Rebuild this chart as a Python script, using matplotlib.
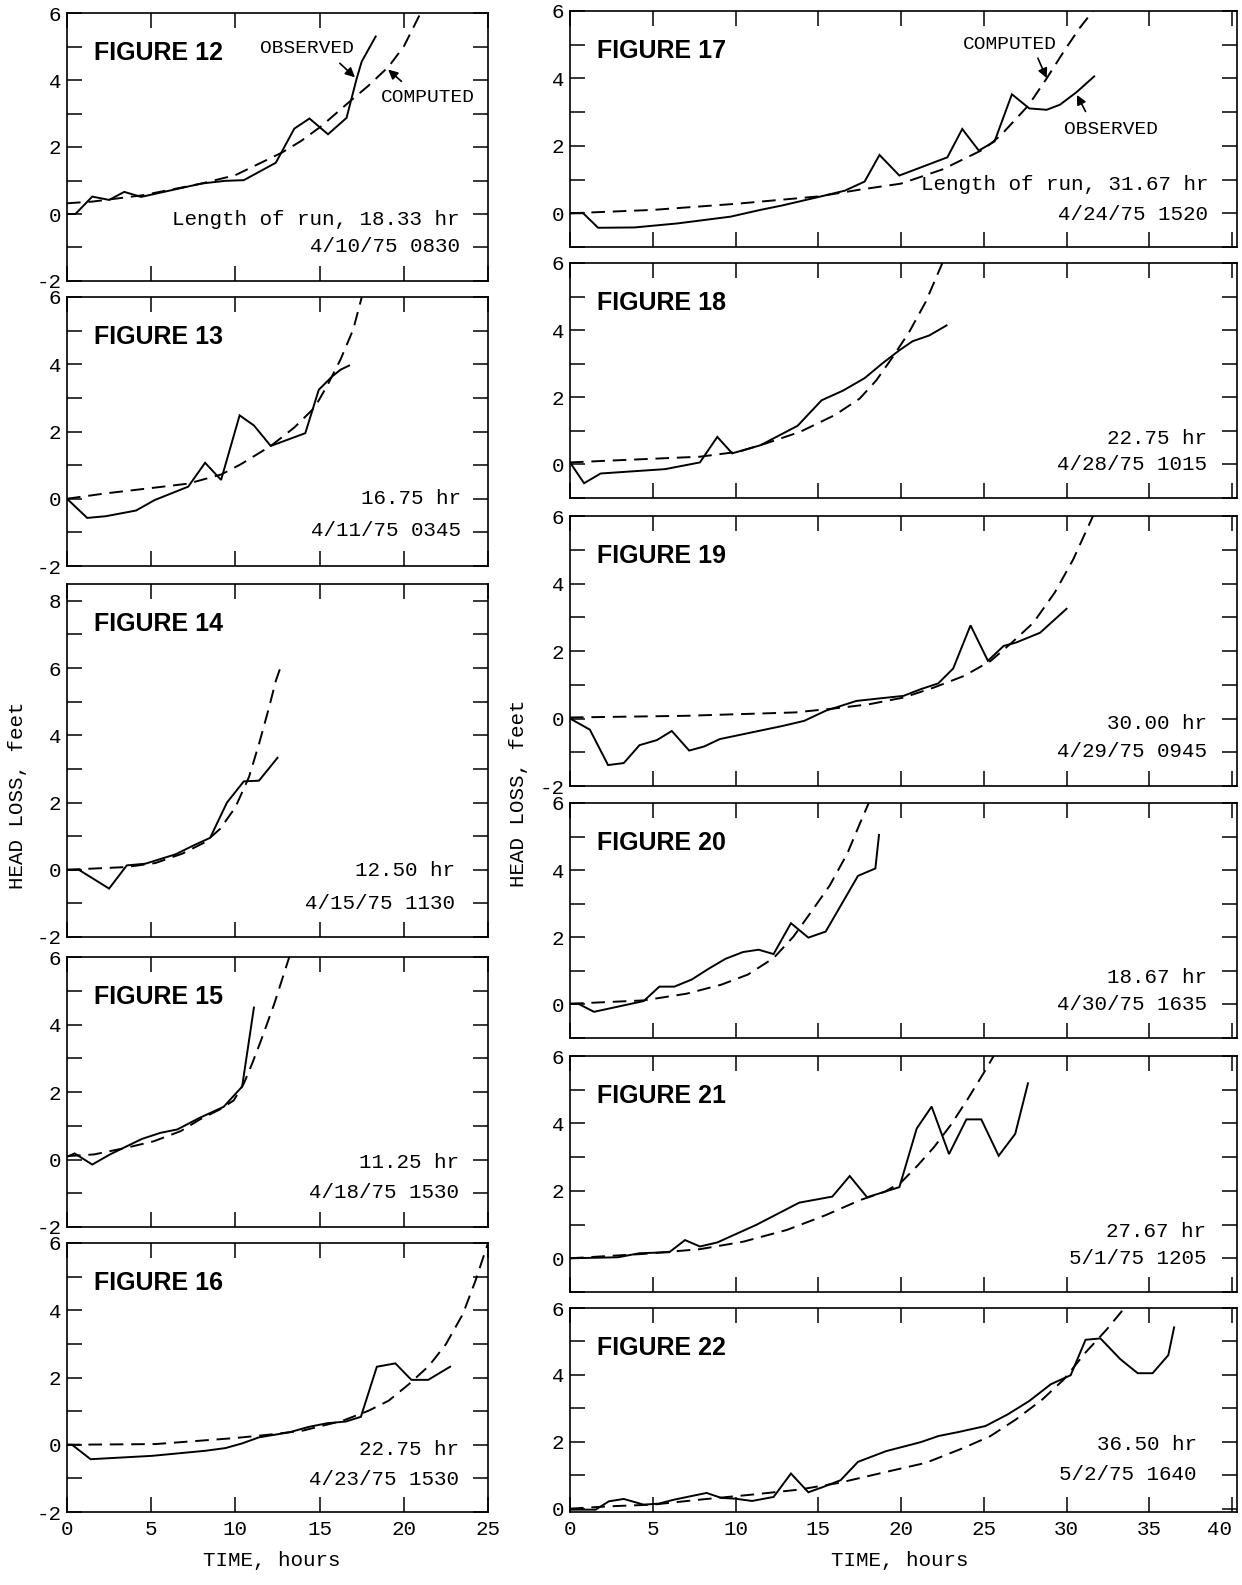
import matplotlib
matplotlib.use("Agg")
import matplotlib.pyplot as plt
from matplotlib.ticker import MultipleLocator, FuncFormatter
from matplotlib.transforms import blended_transform_factory

plt.rcParams['font.family'] = 'Liberation Mono'
plt.rcParams['axes.unicode_minus'] = False

# ---- data (time in hours, head loss in feet) ----
fig12_obs_t = [0, 0.5, 1.5, 2.5, 3.4, 4.4, 8.0, 9.4, 10.5, 12.4, 13.5, 14.4, 15.5, 16.6, 17.2, 17.5, 18.33]
fig12_obs_h = [0.0, 0.0, 0.52, 0.42, 0.66, 0.51, 0.91, 0.99, 1.01, 1.53, 2.55, 2.85, 2.38, 2.87, 4.04, 4.55, 5.3]
fig12_cmp_t = [0, 1.5, 4.5, 8.0, 10.0, 12.75, 13.9, 15.1, 16.7, 17.9, 19.1, 20.0, 21.0]
fig12_cmp_h = [0.32, 0.37, 0.56, 0.91, 1.16, 1.83, 2.18, 2.62, 3.32, 3.83, 4.4, 5.0, 6.0]

fig13_obs_t = [0, 1.2, 2.3, 4.1, 5.2, 7.2, 8.2, 9.15, 10.25, 11.1, 12.1, 14.15, 14.95, 15.75, 16.25, 16.75]
fig13_obs_h = [0, -0.57, -0.52, -0.35, -0.04, 0.36, 1.07, 0.56, 2.48, 2.18, 1.57, 1.95, 3.24, 3.64, 3.84, 3.96]
fig13_cmp_t = [0, 2.3, 5.2, 7.2, 9.15, 10.3, 12.1, 13.5, 14.7, 15.45, 16.25, 17.0, 17.5]
fig13_cmp_h = [0, 0.16, 0.33, 0.45, 0.72, 1.02, 1.57, 2.12, 2.71, 3.36, 4.15, 5.04, 5.99]

fig14_obs_t = [0, 0.7, 2.5, 3.55, 4.65, 6.45, 7.5, 8.5, 9.5, 10.5, 11.4, 12.5]
fig14_obs_h = [0, 0, -0.56, 0.13, 0.18, 0.46, 0.72, 0.95, 2.0, 2.63, 2.65, 3.33]
fig14_cmp_t = [0, 3.5, 5.25, 6.85, 8.2, 9.1, 10.0, 10.8, 11.4, 12.0, 12.4, 12.7]
fig14_cmp_h = [0, 0.08, 0.2, 0.48, 0.82, 1.22, 1.86, 2.75, 3.74, 4.83, 5.62, 6.05]

fig15_obs_t = [0, 0.45, 1.5, 2.55, 4.45, 5.55, 6.55, 7.9, 9.3, 10.4, 11.1]
fig15_obs_h = [0.08, 0.18, -0.15, 0.15, 0.61, 0.79, 0.89, 1.24, 1.56, 2.16, 4.5]
fig15_cmp_t = [0, 1.6, 3.55, 5.15, 6.75, 7.9, 9.1, 9.9, 10.5, 11.0, 11.5, 12.3, 13.2]
fig15_cmp_h = [0.1, 0.15, 0.35, 0.54, 0.84, 1.19, 1.49, 1.75, 2.25, 2.85, 3.5, 4.6, 6.0]

fig16_obs_t = [0, 0.3, 1.4, 5.05, 8.2, 9.4, 10.4, 11.4, 13.2, 14.35, 15.45, 16.55, 17.45, 18.4, 19.5, 20.45, 21.45, 22.75]
fig16_obs_h = [0, 0, -0.43, -0.33, -0.18, -0.1, 0.04, 0.22, 0.37, 0.53, 0.64, 0.69, 0.83, 2.32, 2.42, 1.93, 1.93, 2.32]
fig16_cmp_t = [0, 5.25, 10.0, 12.0, 14.0, 16.35, 17.9, 19.1, 20.3, 21.5, 22.5, 23.5, 24.25, 25.0]
fig16_cmp_h = [0, 0.02, 0.2, 0.3, 0.42, 0.71, 1.01, 1.31, 1.8, 2.35, 2.99, 3.88, 4.87, 6.0]

fig17_obs_t = [0, 0.8, 1.7, 3.9, 6.5, 9.7, 11.5, 12.8, 14.9, 16.6, 17.8, 18.7, 19.9, 22.8, 23.7, 24.7,
               25.65, 26.7, 27.75, 28.8, 29.6, 30.6, 31.67]
fig17_obs_h = [0, 0, -0.43, -0.42, -0.3, -0.1, 0.1, 0.23, 0.47, 0.67, 0.94, 1.73, 1.12, 1.66, 2.5, 1.86,
               2.13, 3.53, 3.11, 3.07, 3.22, 3.59, 4.06]
fig17_cmp_t = [0, 5, 10, 15, 17.5, 20, 22.5, 25, 26, 27.7, 28.8, 29.9, 30.8, 31.6]
fig17_cmp_h = [0, 0.1, 0.28, 0.5, 0.7, 0.88, 1.3, 1.9, 2.3, 3.2, 4.0, 4.85, 5.5, 6.0]

fig18_obs_t = [0, 0.85, 1.85, 5.75, 7.85, 8.9, 9.8, 11.5, 13.75, 15.2, 16.5, 17.8, 18.85, 19.9, 20.7, 21.7, 22.75]
fig18_obs_h = [0.06, -0.56, -0.27, -0.14, 0.06, 0.82, 0.33, 0.57, 1.15, 1.91, 2.2, 2.57, 3.0, 3.4, 3.67, 3.84, 4.14]
fig18_cmp_t = [0, 3.15, 7.85, 10.2, 11.8, 13.9, 16.0, 17.5, 18.5, 19.5, 20.5, 21.5, 22.5]
fig18_cmp_h = [0.06, 0.13, 0.23, 0.38, 0.62, 0.97, 1.47, 1.96, 2.5, 3.2, 3.95, 4.85, 6.0]

fig19_obs_t = [0, 1.2, 2.3, 3.25, 4.2, 5.25, 6.15, 7.2, 8.1, 9.05, 12.85, 14.15, 15.45, 17.3, 18.6, 20.15,
               21.2, 22.25, 23.15, 24.2, 25.25, 26.2, 26.95, 28.4, 30.0]
fig19_obs_h = [0, -0.33, -1.38, -1.32, -0.79, -0.64, -0.37, -0.95, -0.83, -0.61, -0.22, -0.07, 0.23, 0.52,
               0.59, 0.67, 0.87, 1.04, 1.48, 2.76, 1.71, 2.15, 2.25, 2.54, 3.25]
fig19_cmp_t = [0, 7, 13.6, 16.2, 18.05, 20.15, 22.0, 23.8, 25.4, 26.7, 28.0, 29.3, 30.4, 31.6]
fig19_cmp_h = [0.03, 0.08, 0.18, 0.31, 0.42, 0.62, 0.92, 1.26, 1.7, 2.25, 2.84, 3.74, 4.71, 6.0]

fig20_obs_t = [0, 0.5, 1.45, 4.45, 5.4, 6.3, 7.35, 8.4, 9.4, 10.45, 11.4, 12.3, 13.35, 14.4, 15.45, 17.4, 18.45, 18.67]
fig20_obs_h = [0.02, 0.02, -0.22, 0.1, 0.53, 0.53, 0.74, 1.07, 1.36, 1.56, 1.63, 1.5, 2.42, 1.99, 2.17, 3.83, 4.05, 5.05]
fig20_cmp_t = [0, 4.45, 7.05, 9.15, 10.75, 12.3, 13.5, 14.65, 15.7, 16.75, 17.55, 18.05]
fig20_cmp_h = [0.02, 0.12, 0.32, 0.59, 0.89, 1.38, 2.02, 2.81, 3.55, 4.49, 5.43, 6.0]

fig21_obs_t = [0, 2.9, 4.2, 6.0, 6.95, 7.85, 8.9, 11.25, 13.85, 15.85, 16.9, 17.95, 19.9, 20.95, 21.85,
               22.9, 23.95, 24.85, 25.9, 26.9, 27.67]
fig21_obs_h = [0, 0.03, 0.15, 0.18, 0.54, 0.35, 0.47, 0.99, 1.65, 1.83, 2.44, 1.81, 2.11, 3.85, 4.5,
               3.09, 4.12, 4.12, 3.04, 3.69, 5.19]
fig21_cmp_t = [0, 4.45, 7.85, 10.45, 13.1, 15.45, 17.55, 19.0, 20.0, 21.0, 22.0, 23.0, 24.0, 25.0, 25.6]
fig21_cmp_h = [0, 0.13, 0.27, 0.49, 0.84, 1.28, 1.73, 1.97, 2.25, 2.75, 3.3, 3.95, 4.7, 5.5, 6.0]

fig22_obs_t = [0, 1.55, 2.35, 3.25, 4.45, 5.35, 6.3, 8.25, 9.15, 9.95, 11.0, 12.3, 13.35, 14.4, 15.3, 16.35,
               17.4, 19.1, 21.2, 22.25, 23.55, 25.1, 26.45, 27.75, 29.05, 30.25, 31.15, 32.05, 33.25, 34.3,
               35.2, 36.15, 36.5]
fig22_obs_h = [-0.03, -0.03, 0.22, 0.29, 0.12, 0.15, 0.27, 0.47, 0.32, 0.3, 0.23, 0.35, 1.05, 0.49, 0.65, 0.85,
               1.4, 1.72, 1.99, 2.17, 2.3, 2.47, 2.82, 3.22, 3.72, 3.99, 5.05, 5.09, 4.47, 4.05,
               4.05, 4.59, 5.42]
fig22_cmp_t = [0, 2.35, 5.0, 7.85, 11.0, 13.85, 16.25, 18.85, 21.5, 23.8, 25.4, 26.95, 28.55, 29.85, 31.15, 32.45, 33.5]
fig22_cmp_h = [0, 0.07, 0.12, 0.27, 0.42, 0.57, 0.77, 1.07, 1.37, 1.82, 2.17, 2.67, 3.27, 3.87, 4.67, 5.37, 6.0]

run_labels = ["Length of run, 18.33 hr", "16.75 hr", "12.50 hr", "11.25 hr", "22.75 hr",
              "Length of run, 31.67 hr", "22.75 hr", "30.00 hr", "18.67 hr", "27.67 hr", "36.50 hr"]
date_labels = ["4/10/75 0830", "4/11/75 0345", "4/15/75 1130", "4/18/75 1530", "4/23/75 1530",
               "4/24/75 1520", "4/28/75 1015", "4/29/75 0945", "4/30/75 1635", "5/1/75 1205", "5/2/75 1640"]
fig_numbers = [12, 13, 14, 15, 16, 17, 18, 19, 20, 21, 22]

observed = [(fig12_obs_t, fig12_obs_h), (fig13_obs_t, fig13_obs_h), (fig14_obs_t, fig14_obs_h),
            (fig15_obs_t, fig15_obs_h), (fig16_obs_t, fig16_obs_h), (fig17_obs_t, fig17_obs_h),
            (fig18_obs_t, fig18_obs_h), (fig19_obs_t, fig19_obs_h), (fig20_obs_t, fig20_obs_h),
            (fig21_obs_t, fig21_obs_h), (fig22_obs_t, fig22_obs_h)]
computed = [(fig12_cmp_t, fig12_cmp_h), (fig13_cmp_t, fig13_cmp_h), (fig14_cmp_t, fig14_cmp_h),
            (fig15_cmp_t, fig15_cmp_h), (fig16_cmp_t, fig16_cmp_h), (fig17_cmp_t, fig17_cmp_h),
            (fig18_cmp_t, fig18_cmp_h), (fig19_cmp_t, fig19_cmp_h), (fig20_cmp_t, fig20_cmp_h),
            (fig21_cmp_t, fig21_cmp_h), (fig22_cmp_t, fig22_cmp_h)]

# ---- layout (pixels) ----
W, H = 1242, 1585
LEFT_X = (67, 488)
RIGHT_X = (570, 1237)
# (column, top px, bottom px, ylim, x of text right edge (axes frac), y of run text, y of date text)
layout = [
    (LEFT_X, 13, 281, (-2, 6), 0.933, -0.15, -0.97),
    (LEFT_X, 297, 566, (-2, 6), 0.935, 0.0, -0.93),
    (LEFT_X, 584, 937, (-2, 8.5), 0.922, -0.02, -0.99),
    (LEFT_X, 957, 1227, (-2, 6), 0.930, -0.1, -0.99),
    (LEFT_X, 1243, 1512, (-2, 6), 0.932, -0.13, -1.02),
    (RIGHT_X, 11, 247, (-1, 6), 0.957, 0.84, -0.05),
    (RIGHT_X, 263, 498, (-1, 6), 0.955, 0.77, 0.0),
    (RIGHT_X, 516, 786, (-2, 6), 0.955, -0.15, -0.97),
    (RIGHT_X, 803, 1038, (-1, 6), 0.955, 0.81, 0.0),
    (RIGHT_X, 1056, 1292, (-1, 6), 0.954, 0.79, 0.0),
    (RIGHT_X, 1308, 1512, (-0.1, 6), 0.940, 1.92, 1.02),
]

fig = plt.figure(figsize=(W / 100, H / 100), dpi=100)
fmt = FuncFormatter(lambda v, p: "%d" % round(v))
axes = []
for i, (cols, top, bot, ylim, tx, ty1, ty2) in enumerate(layout):
    x0, x1 = cols
    ax = fig.add_axes([x0 / W, 1 - bot / H, (x1 - x0) / W, (bot - top) / H])
    axes.append(ax)
    t, h = observed[i]
    ct, ch = computed[i]
    ax.plot(t, h, color='black', lw=1.4, solid_joinstyle='miter')
    ax.plot(ct, ch, color='black', lw=1.4, dashes=(7, 4))
    ax.set_ylim(*ylim)
    ax.set_xlim(0, 25 if cols == LEFT_X else 40.3)
    ax.xaxis.set_major_locator(MultipleLocator(5))
    ax.yaxis.set_major_locator(MultipleLocator(2))
    ax.yaxis.set_minor_locator(MultipleLocator(1))
    ax.yaxis.set_major_formatter(fmt)
    ax.xaxis.set_major_formatter(fmt)
    ax.tick_params(which='both', direction='in', top=True, right=True, length=11, width=1.1,
                   labelsize=15, colors='black')
    ax.tick_params(axis='y', pad=4)
    ax.tick_params(axis='x', pad=6)
    last = (i == 4 or i == 10)
    ax.tick_params(axis='x', labelbottom=last)
    for s in ax.spines.values():
        s.set_linewidth(1.2)

    ax.annotate("FIGURE %d" % fig_numbers[i], xy=(0, 1), xycoords='axes fraction',
                xytext=(27, -40), textcoords='offset pixels', ha='left', va='center',
                fontsize=18, fontweight='bold', family='Liberation Sans')
    tr = blended_transform_factory(ax.transAxes, ax.transData)
    ax.text(tx, ty1, run_labels[i], transform=tr, ha='right', va='center', fontsize=15)
    ax.text(tx, ty2, date_labels[i], transform=tr, ha='right', va='center', fontsize=15)

# the "40" label sits against the right edge of the figure
axes[10].set_xticks(range(0, 41, 5))
axes[10].get_xticklabels()[-1].set_horizontalalignment('right')

arrow = dict(arrowstyle='-|>', color='black', lw=1.2, mutation_scale=14, shrinkA=0, shrinkB=0)
ax = axes[0]
ax.text(14.27, 4.93, "OBSERVED", ha='center', va='center', fontsize=14)
ax.annotate("", xy=(17.1, 4.08), xytext=(16.2, 4.5), arrowprops=arrow)
ax.text(21.44, 3.47, "COMPUTED", ha='center', va='center', fontsize=14)
ax.annotate("", xy=(19.07, 4.31), xytext=(19.86, 3.96), arrowprops=arrow)
ax = axes[5]
ax.text(26.6, 5.0, "COMPUTED", ha='center', va='center', fontsize=14)
ax.annotate("", xy=(28.8, 4.01), xytext=(28.27, 4.6), arrowprops=arrow)
ax.text(32.7, 2.48, "OBSERVED", ha='center', va='center', fontsize=14)
ax.annotate("", xy=(30.63, 3.51), xytext=(31.15, 3.02), arrowprops=arrow)

fig.text(18 / W, 1 - 795 / H, "HEAD LOSS, feet", rotation=90, ha='center', va='center', fontsize=15)
fig.text(518 / W, 1 - 793 / H, "HEAD LOSS, feet", rotation=90, ha='center', va='center', fontsize=15)
fig.text(272 / W, 1 - 1561 / H, "TIME, hours", ha='center', va='center', fontsize=15)
fig.text(900 / W, 1 - 1561 / H, "TIME, hours", ha='center', va='center', fontsize=15)

fig.savefig("out.png", dpi=100)
